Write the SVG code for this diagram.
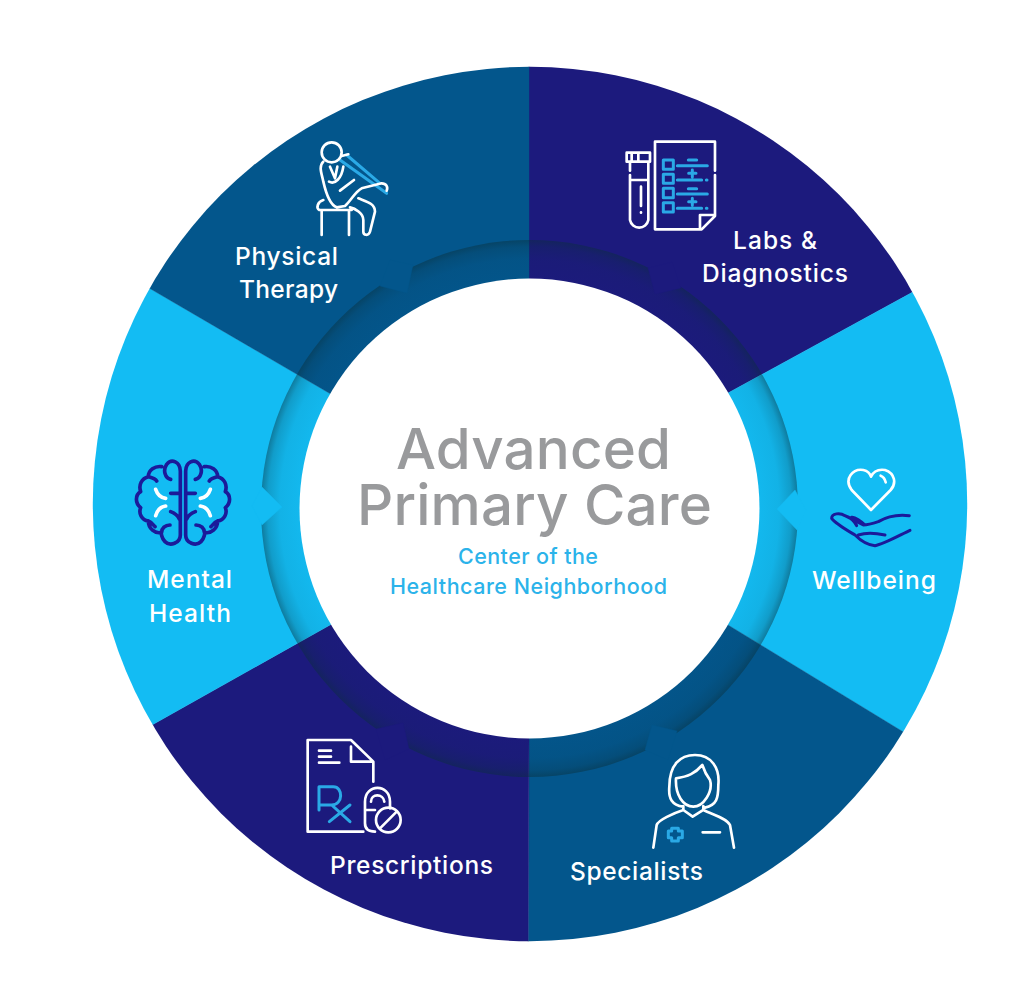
<svg xmlns="http://www.w3.org/2000/svg" width="1033" height="991" viewBox="0 0 1033 991">
<style>
.navy{fill:#1c1a7d;stroke:#1c1a7d;stroke-width:.4}.blue{fill:#03568c;stroke:#03568c;stroke-width:.4}.cyan{fill:#13bcf3;stroke:#13bcf3;stroke-width:.4}
.lbl{font-family:"Inter","Liberation Sans",sans-serif;font-size:24.5px;font-weight:500;fill:#fff}
.ttl{font-family:"Inter","Liberation Sans",sans-serif;font-size:56.5px;font-weight:500;fill:#999a9c}
.sub{font-family:"Inter","Liberation Sans",sans-serif;font-size:21.5px;font-weight:500;fill:#2bb3ea}
.ic{fill:none;stroke-linecap:round;stroke-linejoin:round;stroke-width:8}
.w{stroke:#fff}.c{stroke:#2aa9e6;stroke-width:9}.n{stroke:#1b1a9a;stroke-width:9}
.b{stroke-width:11}
</style>
<defs>
<radialGradient id="sh" gradientUnits="userSpaceOnUse" cx="529.5" cy="508.5" r="268.5">
<stop offset="0.86" stop-color="#0a2f3a" stop-opacity="0.03"/>
<stop offset="0.93" stop-color="#0a2f3a" stop-opacity="0.07"/>
<stop offset="0.975" stop-color="#0a2f3a" stop-opacity="0.22"/>
<stop offset="1" stop-color="#0a2f3a" stop-opacity="0.46"/>
</radialGradient>
<clipPath id="disc"><circle cx="530" cy="504" r="437.2"/></clipPath>
</defs>
<g id="segments" clip-path="url(#disc)">
<path class="navy" d="M529.5 508.5L529 279V0H1033V187L911 293L728 393Z"/>
<path class="cyan" d="M529.5 508.5L728 393L911 293L1033 226V811L905 733L728 625Z"/>
<path class="blue" d="M529.5 508.5L728 625L905 733L1033 811V991H528L529 738Z"/>
<path class="navy" d="M529.5 508.5L529 738L528 991H0V810L152 725L330 625Z"/>
<path class="cyan" d="M529.5 508.5L330 625L152 725L0 810V201L149 288L329 393Z"/>
<path class="blue" d="M529.5 508.5L329 393L149 288L0 201V0H529V279Z"/>
</g>
<circle id="ring" cx="529.5" cy="508.5" r="268.5" fill="url(#sh)"/>
<g id="notches">
<path class="navy" d="M648 268L655 294L681 288L672 262Z"/>
<path class="cyan" d="M795 490L777 509L797 530L806 510Z"/>
<path class="blue" d="M645 750L652 725L677 731L668 760Z"/>
<path class="navy" d="M376 729L403 723L409 749L385 760Z"/>
<path class="cyan" d="M262 487L282 507L262 525L252 506Z"/>
<path class="blue" d="M413 265L407 293L380 286L390 260Z"/>
</g>
<circle id="hub" cx="529.5" cy="508.5" r="230" fill="#fff"/>
<g id="center">
<text class="ttl" x="533.5" y="469" text-anchor="middle" textLength="275">Advanced</text>
<text class="ttl" x="534.5" y="525" text-anchor="middle" textLength="355">Primary Care</text>
<text class="sub" x="528" y="564" text-anchor="middle" textLength="140">Center of the</text>
<text class="sub" x="528.5" y="594" text-anchor="middle" textLength="277">Healthcare Neighborhood</text>
</g>
<g id="labs">
<g transform="translate(610 130) scale(.3333)" class="ic">
<path class="w" d="M315 122V35H135V298H275L315 258V135M270 298V255H315M50 68H120V95H50ZM65 70V93M85 70V93M60 98V122M60 135V270A28 28 0 0 0 115 270V98M60 150H115M93 170V228M93 247V248"/>
<path class="c" d="M160 90H190V118H160ZM160 133H190V160H160ZM160 175H190V203H160ZM160 218H190V246H160ZM202 107H292M235 90H260M236 130H258M247 120V141M202 150H275M289 150H291M202 192H292M235 176H260M236 215H258M247 205V226M202 235H275M289 235H291"/>
</g>
<text class="lbl" x="775" y="249" text-anchor="middle" textLength="84">Labs &amp;</text>
<text class="lbl" x="775" y="282" text-anchor="middle" textLength="146">Diagnostics</text>
</g>
<g id="wellbeing">
<g transform="translate(820 455) scale(.3333)" class="ic">
<path class="w" d="M153 165L95 105C70 70 100 40 130 45C142 48 150 55 153 65C160 50 175 42 195 45C225 55 230 85 212 105ZM182 62C190 65 195 72 197 82"/>
<path class="n" d="M268 182C235 178 200 185 175 200C160 205 145 210 130 210L75 182C60 172 35 175 35 190C45 205 80 225 105 240C120 255 140 270 165 272C190 268 240 240 270 226M115 240C140 232 170 235 195 240M75 182C90 185 105 200 110 212M95 187C105 185 125 200 135 210"/>
</g>
<text class="lbl" x="874" y="589" text-anchor="middle" textLength="124">Wellbeing</text>
</g>
<g id="specialists">
<g transform="translate(640 745) scale(.3333)" class="ic">
<path class="w" d="M130 185C95 180 85 160 88 125C88 60 120 30 165 30C215 30 240 70 235 120C235 160 230 180 195 188M108 100C145 95 165 85 187 60C195 85 210 105 210 105C220 140 190 185 160 185C130 185 105 150 108 100ZM130 183V195L158 215L190 195V183M40 308L50 240C55 225 100 205 130 195M190 195C220 210 260 220 270 240L282 308M188 262H240"/>
<path class="c" d="M95 250H115V258H127V278H115V288H95V278H85V258H95Z"/>
</g>
<text class="lbl" x="636.5" y="880" text-anchor="middle" textLength="133">Specialists</text>
</g>
<g id="prescriptions">
<g transform="translate(295 730) scale(.3333)" class="ic">
<path class="w" d="M235 155V95L168 30H38V305H205M168 50V95H230M72 62H108M72 80H108M72 98H133M210 280V215C210 160 285 160 285 215V235M210 280C210 300 225 305 240 305M228 215C228 190 265 190 268 215M210 240H240M255 295L305 245"/>
<circle class="w" cx="280" cy="270" r="37"/>
<path class="c" d="M72 240V170H115C145 170 145 225 110 225H72M110 225L165 275M165 225L103 275"/>
</g>
<text class="lbl" x="411.5" y="874" text-anchor="middle" textLength="163">Prescriptions</text>
</g>
<g id="mental">
<g transform="translate(120 445) scale(.3333)" class="ic">
<path class="n b" d="M152 103C135 100 128 75 140 58C155 40 180 50 181 78V270C181 295 150 305 135 290C125 280 122 262 125 262M125 65C105 62 85 75 85 95C65 100 55 120 62 140C45 150 45 175 62 188C55 205 65 225 85 228C85 250 105 268 125 262C125 250 135 240 150 240M85 95C95 98 105 100 110 108M152 145H178M152 200C165 205 175 215 178 222M85 228C95 232 100 240 105 245"/>
<path class="n b" d="M226 103C243 100 250 75 238 58C223 40 198 50 197 78V270C197 295 228 305 243 290C253 280 256 262 253 262M253 65C273 62 293 75 293 95C313 100 323 120 316 140C333 150 333 175 316 188C323 205 313 225 293 228C293 250 273 268 253 262C253 250 243 240 228 240M293 95C283 98 273 100 268 108M226 145H200M226 200C213 205 203 215 200 222M293 228C283 232 278 240 273 245"/>
<path class="w b" d="M107 133C112 148 122 158 137 160M107 212C112 195 122 185 137 183M271 133C266 148 256 158 241 160M271 212C266 195 256 185 241 183"/>
</g>
<text class="lbl" x="189.5" y="588" text-anchor="middle" textLength="85">Mental</text>
<text class="lbl" x="190" y="622" text-anchor="middle" textLength="82">Health</text>
</g>
<g id="physical">
<g transform="translate(280 120) scale(.3333)" class="ic">
<path class="c" d="M180 120L320 220M200 105L300 190"/>
<circle class="w" cx="155" cy="97" r="30"/>
<path class="w" d="M130 125C115 140 125 160 130 185C138 220 150 255 170 262L195 258C215 240 225 215 245 205L305 190C318 190 325 200 320 212M235 235C260 245 285 250 285 275L270 335C265 350 250 345 250 335V300C250 280 225 265 210 262M130 240C112 245 108 265 118 270H215M125 272V345M207 272V345M150 140L165 175L172 140M147 185C165 195 185 175 190 140M180 212L222 180M185 108L205 103"/>
</g>
<text class="lbl" x="286.5" y="265" text-anchor="middle" textLength="103">Physical</text>
<text class="lbl" x="288.5" y="298" text-anchor="middle" textLength="99">Therapy</text>
</g>
</svg>
